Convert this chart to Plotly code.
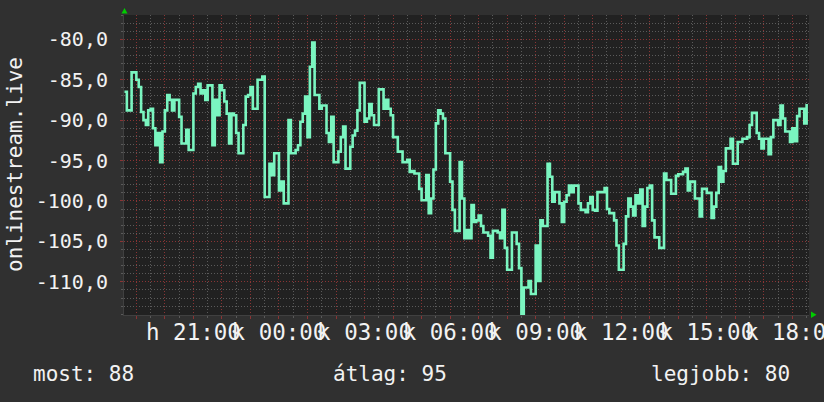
import pandas as pd
import plotly.graph_objects as go

# ---- data -------------------------------------------------------------
start_time = "2024-01-01 18:35"          # hétfő (Monday) evening
step_minutes = 5
values = [
    -86.5, -88.8, -88.8, -84.1, -84.1, -85.0, -85.9, -89.0, -90.0, -90.6,
    -88.8, -88.6, -91.0, -93.1, -91.6, -95.2, -91.4, -88.8, -86.9, -87.5,
    -88.8, -87.5, -87.5, -89.6, -92.9, -92.9, -91.2, -93.7, -93.7, -86.7,
    -85.9, -85.5, -86.7, -86.3, -87.5, -85.7, -85.7, -93.1, -87.5, -89.4,
    -85.7, -86.3, -87.7, -89.2, -92.9, -89.2, -89.4, -91.6, -94.1, -94.1,
    -90.6, -87.1, -86.9, -85.9, -88.6, -88.6, -85.0, -85.0, -84.6, -99.5,
    -99.5, -95.4, -96.8, -94.1, -94.1, -98.7, -97.6, -100.3, -100.3, -90.0,
    -94.1, -94.1, -93.7, -93.1, -90.2, -89.2, -87.1, -92.1, -83.4, -80.4,
    -86.9, -86.9, -88.6, -88.2, -88.2, -91.6, -92.7, -89.6, -95.2, -95.2,
    -93.9, -92.1, -90.8, -96.0, -96.0, -93.3, -91.9, -91.3, -88.8, -85.4,
    -85.4, -90.2, -89.8, -88.0, -89.4, -90.6, -90.6, -86.2, -86.2, -88.6,
    -87.5, -88.6, -89.4, -92.1, -92.1, -93.9, -93.9, -95.2, -95.2, -94.9,
    -96.4, -96.3, -96.6, -96.6, -98.5, -99.9, -99.9, -96.8, -101.5, -99.7,
    -96.1, -90.4, -88.8, -89.2, -89.8, -94.1, -94.1, -97.6, -101.1, -103.7,
    -103.7, -95.2, -99.7, -104.6, -103.6, -104.6, -100.5, -102.6, -102.4, -101.8,
    -103.1, -103.9, -103.9, -104.3, -107.0, -103.7, -103.7, -103.9, -104.6, -101.1,
    -105.8, -108.5, -108.5, -103.9, -103.9, -105.3, -108.3, -114.0, -110.7, -110.7,
    -109.9, -111.5, -111.5, -105.5, -109.9, -102.4, -103.1, -103.1, -95.4, -97.0,
    -100.1, -98.9, -98.9, -100.3, -102.6, -100.1, -99.3, -98.1, -98.9, -98.1,
    -98.1, -100.3, -101.1, -101.1, -101.4, -100.3, -99.5, -101.1, -101.2, -98.9,
    -98.9, -98.9, -98.4, -101.0, -101.5, -101.5, -102.4, -105.5, -108.5, -108.5,
    -105.3, -101.9, -99.7, -100.7, -101.8, -99.3, -100.3, -98.6, -103.1, -100.7,
    -98.4, -98.1, -102.4, -104.5, -104.5, -105.8, -105.8, -96.6, -97.4, -97.4,
    -99.1, -99.1, -96.9, -96.7, -96.7, -96.4, -96.0, -98.7, -97.6, -97.6,
    -99.7, -99.7, -101.9, -98.5, -98.5, -99.0, -99.0, -102.1, -100.7, -99.0,
    -95.8, -97.6, -96.3, -93.5, -93.5, -92.3, -95.4, -95.4, -92.7, -92.7,
    -92.3, -92.3, -92.1, -90.6, -89.1, -89.1, -91.6, -92.3, -93.5, -92.3,
    -92.3, -94.2, -92.1, -90.0, -90.0, -90.6, -88.2, -89.8, -91.4, -91.4,
    -92.7, -91.0, -92.6, -89.5, -88.6, -88.6, -90.4, -88.0,
]
x_range = ["2024-01-01 18:34", "2024-01-02 18:35"]
y_range = [-114.1, -77.0]
y_ticks = [-110, -105, -100, -95, -90, -85, -80]
x_label_times = ["2024-01-01 21:00", "2024-01-02 00:00", "2024-01-02 03:00",
                 "2024-01-02 06:00", "2024-01-02 09:00", "2024-01-02 12:00",
                 "2024-01-02 15:00", "2024-01-02 18:00"]
x_labels = ["h 21:00", "k 00:00", "k 03:00", "k 06:00", "k 09:00",
            "k 12:00", "k 15:00", "k 18:00"]
y_title = "onlinestream.live"
legend_items = ["most: 88", "átlag: 95", "legjobb: 80"]

# ---- figure -----------------------------------------------------------
times = pd.date_range(start_time, periods=len(values), freq=f"{step_minutes}min")
hour_ticks = pd.date_range("2024-01-01 19:00", "2024-01-02 18:00", freq="h")
label_map = {pd.Timestamp(t): l for t, l in zip(x_label_times, x_labels)}
hour_text = [label_map.get(t, "") for t in hour_ticks]
y_text = [f"{v:.1f}".replace(".", ",") for v in y_ticks]

W, H = 824, 402
ML, MR, MT, MB = 124, 15, 15, 87
PW, PH = W - ML - MR, H - MT - MB

FONT = "DejaVu Sans Mono"
BG = "#303030"
PLOT_BG = "#212121"
RED = "#8a3434"
GREY = "#5a5a5a"
TXT = "#f2f2f2"

fig = go.Figure()
fig.add_trace(go.Scatter(
    x=times, y=values, mode="lines", line=dict(color="#7af5c0", width=2.6, shape="hv"),
    hoverinfo="skip", showlegend=False))

fig.update_layout(
    width=W, height=H, margin=dict(l=ML, r=MR, t=MT, b=MB, autoexpand=False),
    paper_bgcolor=BG, plot_bgcolor=PLOT_BG, showlegend=False,
    font=dict(family=FONT, color=TXT),
)
fig.update_xaxes(
    range=x_range, tickmode="array", tickvals=hour_ticks, ticktext=hour_text,
    tickangle=0, tickfont=dict(size=22.5, family=FONT, color=TXT),
    automargin=False, ticklabeloverflow="allow", ticklabelstandoff=-6,
    showgrid=True, gridcolor=RED, griddash="1px,2px", gridwidth=1,
    ticks="outside", ticklen=3, tickcolor=RED, tickwidth=1,
    showline=True, linecolor="#404040", linewidth=1, zeroline=False,
    minor=dict(dtick=30 * 60 * 1000, tick0="2024-01-01 18:00", showgrid=True,
               gridcolor=GREY, griddash="1px,2px", gridwidth=1,
               ticks="outside", ticklen=2, tickcolor=GREY),
)
fig.update_yaxes(
    range=y_range, tickmode="array", tickvals=y_ticks, ticktext=y_text,
    tickfont=dict(size=20, family=FONT, color=TXT),
    automargin=False,
    showgrid=True, gridcolor=RED, griddash="1px,2px", gridwidth=1,
    ticks="outside", ticklen=3, tickcolor=RED, tickwidth=1, ticklabelstandoff=8,
    showline=True, linecolor="#404040", linewidth=1, zeroline=False,
    minor=dict(dtick=1, tick0=0, showgrid=True, gridcolor=GREY,
               griddash="1px,2px", gridwidth=1, ticks="outside", ticklen=2,
               tickcolor=GREY),
)


def px_x(p):
    return (p - ML) / PW


def px_y(p):
    return (H - MB - p) / PH


# y axis title
fig.add_annotation(text=y_title, xref="paper", yref="paper", x=px_x(15), y=px_y(164),
                   textangle=-90, showarrow=False, xanchor="center", yanchor="middle",
                   font=dict(size=21, family=FONT, color=TXT))

# legend line at bottom
for txt, left in zip(legend_items, [31, 331, 649]):
    fig.add_annotation(text=txt, xref="paper", yref="paper", x=px_x(left), y=px_y(374),
                       showarrow=False, xanchor="left", yanchor="middle",
                       font=dict(size=21, family=FONT, color=TXT))

# green axis arrows
fig.add_shape(type="path", xref="paper", yref="paper", line=dict(width=0),
              fillcolor="#00cc00",
              path=f"M {px_x(121.5)} {px_y(13.5)} L {px_x(124.5)} {px_y(8)} L {px_x(127.5)} {px_y(13.5)} Z")
fig.add_shape(type="path", xref="paper", yref="paper", line=dict(width=0),
              fillcolor="#00cc00",
              path=f"M {px_x(811)} {px_y(311.5)} L {px_x(816.5)} {px_y(314.8)} L {px_x(811)} {px_y(318)} Z")

fig.write_html(
    "out.html",
    config={"displayModeBar": False, "staticPlot": True},
    post_script="document.body.style.margin='0';document.body.style.padding='0';"
                "document.body.style.overflow='hidden';"
                "document.body.style.background='" + BG + "';",
)
